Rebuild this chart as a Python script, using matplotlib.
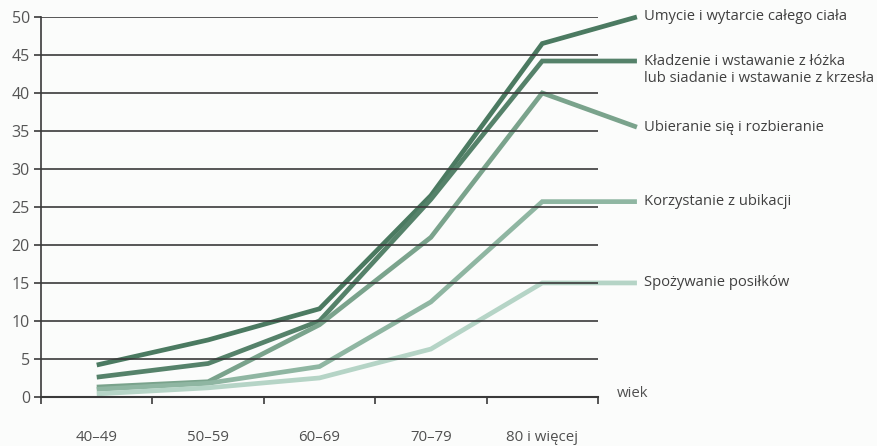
import numpy as np
import matplotlib.pyplot as plt

# =============================================================================
# Data
# =============================================================================

age_groups = ["40–49", "50–59", "60–69", "70–79", "80 i więcej"]

washing = [4.2, 7.5, 11.6, 26.5, 46.5]
bed_chair = [2.6, 4.4, 10.0, 26.0, 44.2]
dressing = [1.3, 2.0, 9.5, 21.0, 40.0]
toilet = [1.0, 1.8, 4.0, 12.5, 25.7]
eating = [0.4, 1.2, 2.5, 6.3, 15.0]

series_names = [
    "Umycie i wytarcie całego ciała",
    "Kładzenie i wstawanie z łóżka\nlub siadanie i wstawanie z krzesła",
    "Ubieranie się i rozbieranie",
    "Korzystanie z ubikacji",
    "Spożywanie posiłków",
]
# where the leader line of each label ends (value on the y axis)
label_values = [50.0, 44.2, 35.5, 25.7, 15.0]

colors = ["#4b7a61", "#55826a", "#7aa38c", "#8fb6a2", "#b5d4c6"]

# =============================================================================
# Plot
# =============================================================================

plt.rcParams['font.family'] = ['Open Sans', 'DejaVu Sans']
text_col = "#404040"

fig = plt.figure(figsize=(8.77, 4.46), dpi=100)
fig.patch.set_facecolor("#fbfcfb")
ax = fig.add_axes([0.0468, 0.110, 0.635, 0.852])
ax.set_facecolor("#fbfcfb")

x = np.arange(len(age_groups))
label_x = 4.85
all_series = [washing, bed_chair, dressing, toilet, eating]

for vals, name, ly, col in zip(all_series, series_names, label_values, colors):
    xs = list(x) + [label_x]
    ys = list(vals) + [ly]
    ax.plot(xs, ys, color=col, lw=3.4, solid_capstyle="butt",
            solid_joinstyle="miter", clip_on=False, zorder=2)
    first, *rest = name.split("\n")
    ax.text(label_x + 0.06, ly, first, ha="left", va="center",
            fontsize=10.6, color=text_col, clip_on=False)
    if rest:
        ax.text(label_x + 0.06, ly - 2.3, rest[0], ha="left", va="center",
                fontsize=10.6, color=text_col, clip_on=False)

ax.set_xlim(-0.5, 4.5)
ax.set_ylim(0, 50)
ax.set_yticks(np.arange(0, 51, 5))
ax.set_xticks(np.arange(-0.5, 5, 1))
ax.set_xticklabels([])
ax.tick_params(axis="y", direction="out", length=5, width=1.2,
               colors="#3a3a3a", labelsize=11.5, labelcolor="#555555", pad=3)
ax.tick_params(axis="x", direction="out", length=5, width=1.2, colors="#3a3a3a")

for i, lab in enumerate(age_groups):
    ax.text(i, -5.4, lab, ha="center", va="center", fontsize=10.8,
            color="#505050", clip_on=False)
ax.text(4.67, 0.4, "wiek", ha="left", va="center", fontsize=10.8,
        color="#505050", clip_on=False)

ax.set_axisbelow(False)
ax.yaxis.grid(True, color="#3a3a3a", lw=1.2)
ax.xaxis.grid(False)
for side in ["top", "right"]:
    ax.spines[side].set_visible(False)
ax.spines["left"].set_color("#3a3a3a")
ax.spines["left"].set_linewidth(1.2)
ax.spines["bottom"].set_color("#3a3a3a")
ax.spines["bottom"].set_linewidth(1.5)

fig.savefig("out.png", dpi=100, facecolor=fig.get_facecolor())
